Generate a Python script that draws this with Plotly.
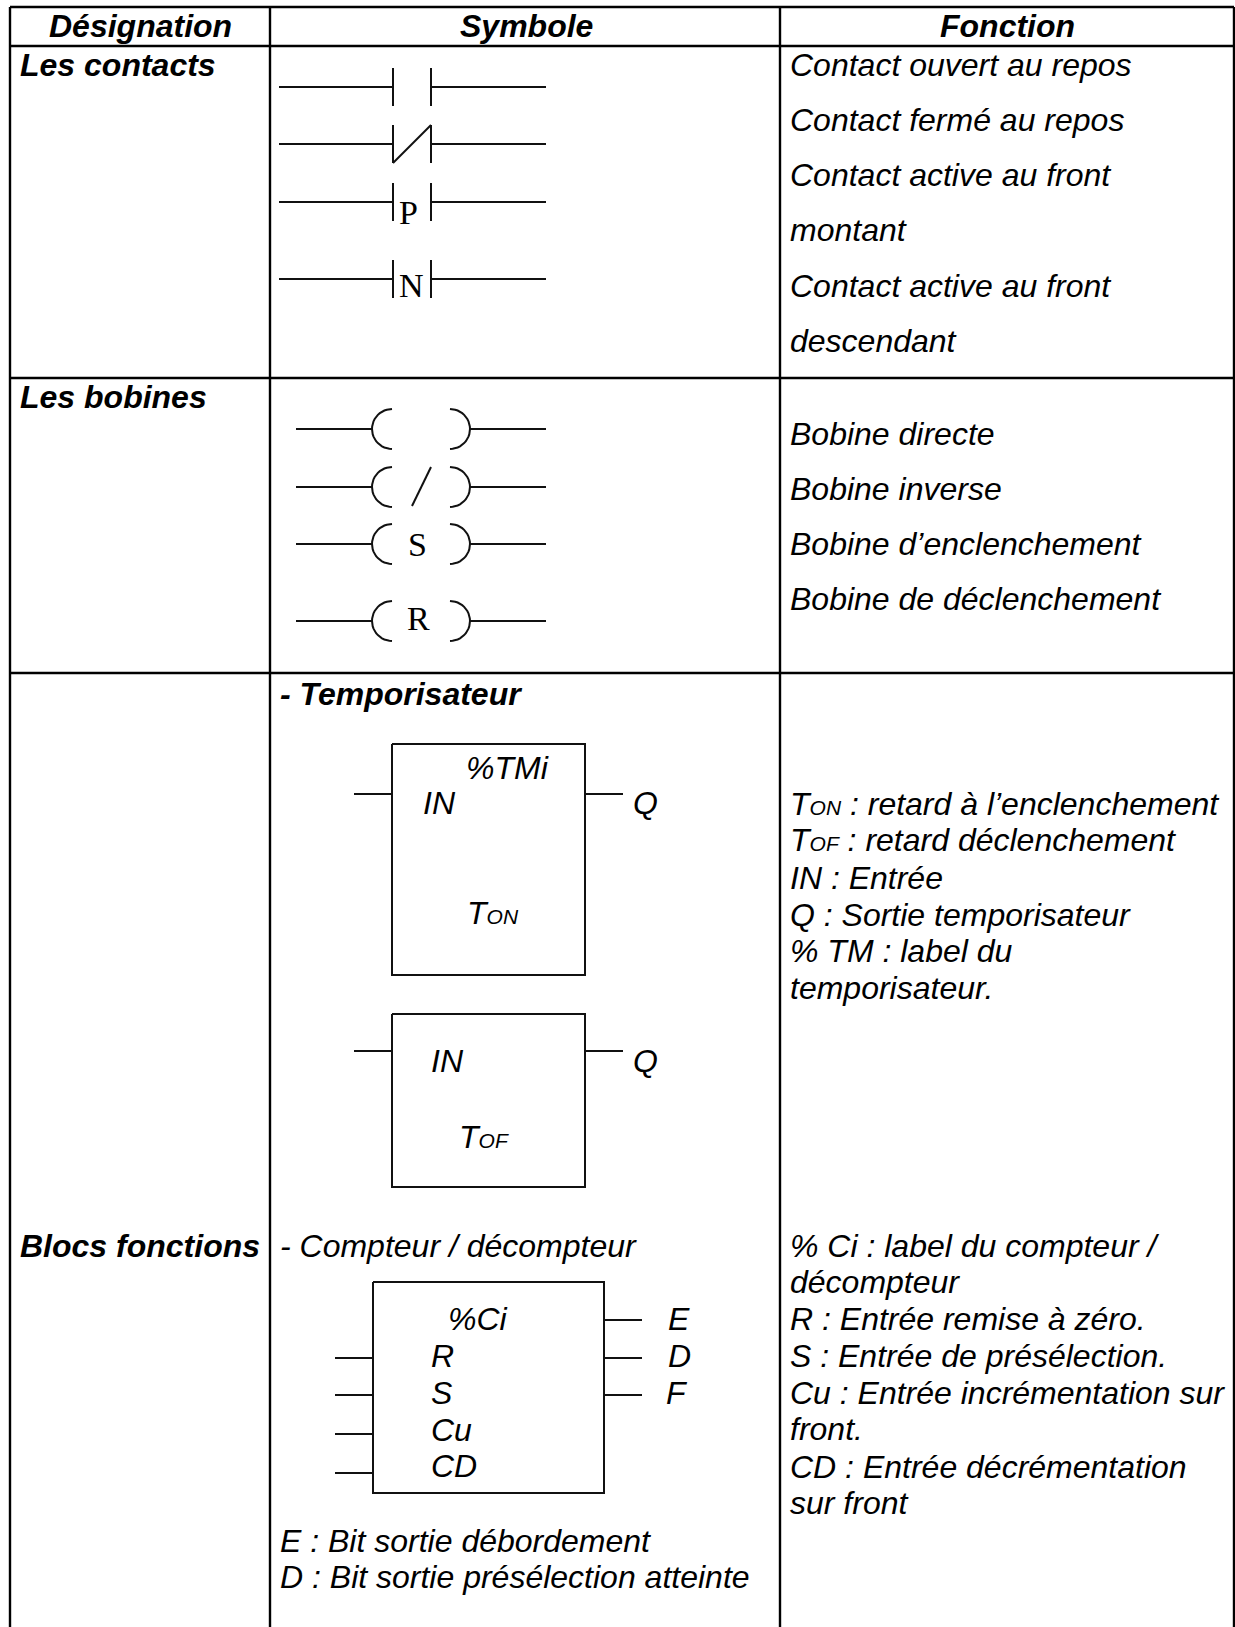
import plotly.graph_objects as go
import numpy as np

W, H = 1235, 1627
BLACK = "#000000"

# table grid
table_x = [10, 270, 780, 1234]
table_y = [7, 46, 378, 673, 1627]

headers = ["Désignation", "Symbole", "Fonction"]
header_x = [140, 526, 1007]

designations = ["Les contacts", "Les bobines", "Blocs fonctions"]
designation_y = [65, 397, 1246]

fn_contacts = ["Contact ouvert au repos", "Contact fermé au repos", "Contact active au front",
               "montant", "Contact active au front", "descendant"]
fn_contacts_y = [65, 120, 175, 230, 286, 341]
fn_coils = ["Bobine directe", "Bobine inverse", "Bobine d’enclenchement", "Bobine de déclenchement"]
fn_coils_y = [434, 489, 544, 599]
SUB = '<span style="font-size:21px">%s</span>'
fn_timer = ["T" + SUB % "ON" + " : retard à l’enclenchement", "T" + SUB % "OF" + " : retard déclenchement",
            "IN : Entrée", "Q : Sortie temporisateur", "% TM : label du", "temporisateur."]
fn_timer_y = [804, 840, 878, 915, 951, 988]
fn_counter = ["% Ci : label du compteur /", "décompteur", "R : Entrée remise à zéro.",
              "S : Entrée de présélection.", "Cu : Entrée incrémentation sur", "front.",
              "CD : Entrée décrémentation", "sur front"]
fn_counter_y = [1246, 1282, 1319, 1356, 1393, 1429, 1467, 1503]

# contact symbols
contact_y = [87, 144, 202, 279]
contact_letters = ["P", "N"]
contact_letter_x = [408, 411]
contact_letter_y = [212, 285]

# coil symbols
coil_y = [429, 487, 544, 621]
coil_letters = ["S", "R"]
coil_letter_x = [417, 418]
coil_letter_y = [544, 618]

# function blocks: (left, right, top, bottom)
timer1_box = [392, 585, 744, 975]
timer2_box = [392, 585, 1014, 1187]
counter_box = [373, 604, 1282, 1493]
timer_wire_y = [794, 1051]
counter_in_y = [1358, 1395, 1434, 1473]
counter_out_y = [1320, 1358, 1395]

block_labels = ["- Temporisateur", "- Compteur / décompteur", "%TMi", "IN", "Q", "T" + SUB % "ON",
                "IN", "Q", "T" + SUB % "OF", "%Ci", "R", "S", "Cu", "CD", "E", "D", "F",
                "E : Bit sortie débordement", "D : Bit sortie présélection atteinte"]
block_x = [280, 280, 466, 423, 633, 467, 431, 633, 459, 448, 431, 431, 431, 431, 668, 668, 666, 280, 280]
block_y = [694, 1246, 768, 803, 803, 913, 1061, 1061, 1137, 1319, 1356, 1393, 1430, 1466, 1319, 1356, 1393, 1541, 1577]

fig = go.Figure()

def line(xs, ys, width=2, color="#111111"):
    fig.add_trace(go.Scatter(x=xs, y=ys, mode="lines", line=dict(color=color, width=width),
                             hoverinfo="skip", showlegend=False))

def text(x, y, s, size=32, anchor="left", bold=False, family="Liberation Sans", italic=True):
    fig.add_annotation(x=x, y=y, text=s, showarrow=False, xanchor=anchor, yanchor="middle",
                       borderpad=0, borderwidth=0,
                       font=dict(family=family, size=size, color=BLACK,
                                 weight="bold" if bold else "normal",
                                 style="italic" if italic else "normal"))

# grid
for x in table_x:
    line([x, x], [table_y[0], table_y[-1]], 2.4, BLACK)
for y in table_y[:-1]:
    line([table_x[0], table_x[-1]], [y, y], 2.4, BLACK)

# contacts
for i, y in enumerate(contact_y):
    line([279, 393], [y, y])
    line([431, 546], [y, y])
    line([393, 393], [y - 19, y + 19])
    line([431, 431], [y - 19, y + 19])
line([393, 431], [contact_y[1] + 19, contact_y[1] - 19])
for s, x, y in zip(contact_letters, contact_letter_x, contact_letter_y):
    text(x, y, s, 34, "center", family="Liberation Serif", italic=False)

# coils
t = np.radians(np.linspace(-90, 90, 25))
for y in coil_y:
    line([296, 372], [y, y])
    line([470, 546], [y, y])
    line(list(392 - 20 * np.cos(t)), list(y + 20 * np.sin(t)))
    line(list(450 + 20 * np.cos(t)), list(y + 20 * np.sin(t)))
line([431, 412], [coil_y[1] - 20, coil_y[1] + 19])
for s, x, y in zip(coil_letters, coil_letter_x, coil_letter_y):
    text(x, y, s, 34, "center", family="Liberation Serif", italic=False)

# blocks
for l, r, tp, b in (timer1_box, timer2_box, counter_box):
    line([l, r, r, l, l], [tp, tp, b, b, tp])
for y in timer_wire_y:
    line([354, 392], [y, y])
    line([585, 623], [y, y])
for y in counter_in_y:
    line([335, 373], [y, y])
for y in counter_out_y:
    line([604, 642], [y, y])

# texts
for s, x in zip(headers, header_x):
    text(x, 26, s, 32, "center", bold=True)
for s, y in zip(designations, designation_y):
    text(20, y, s, 32, bold=True)
for labels, ys in ((fn_contacts, fn_contacts_y), (fn_coils, fn_coils_y),
                   (fn_timer, fn_timer_y), (fn_counter, fn_counter_y)):
    for s, y in zip(labels, ys):
        text(790, y, s)
for i, (s, x, y) in enumerate(zip(block_labels, block_x, block_y)):
    text(x, y, s, bold=(i == 0))

fig.update_layout(
    width=W, height=H, margin=dict(l=0, r=0, t=0, b=0),
    paper_bgcolor="white", plot_bgcolor="white", showlegend=False,
    xaxis=dict(range=[0, W], visible=False, fixedrange=True),
    yaxis=dict(range=[H, 0], visible=False, fixedrange=True),
)
fig.write_html("out.html", config=dict(displayModeBar=False),
               post_script="document.body.style.margin='0';document.documentElement.style.overflow='hidden';")
